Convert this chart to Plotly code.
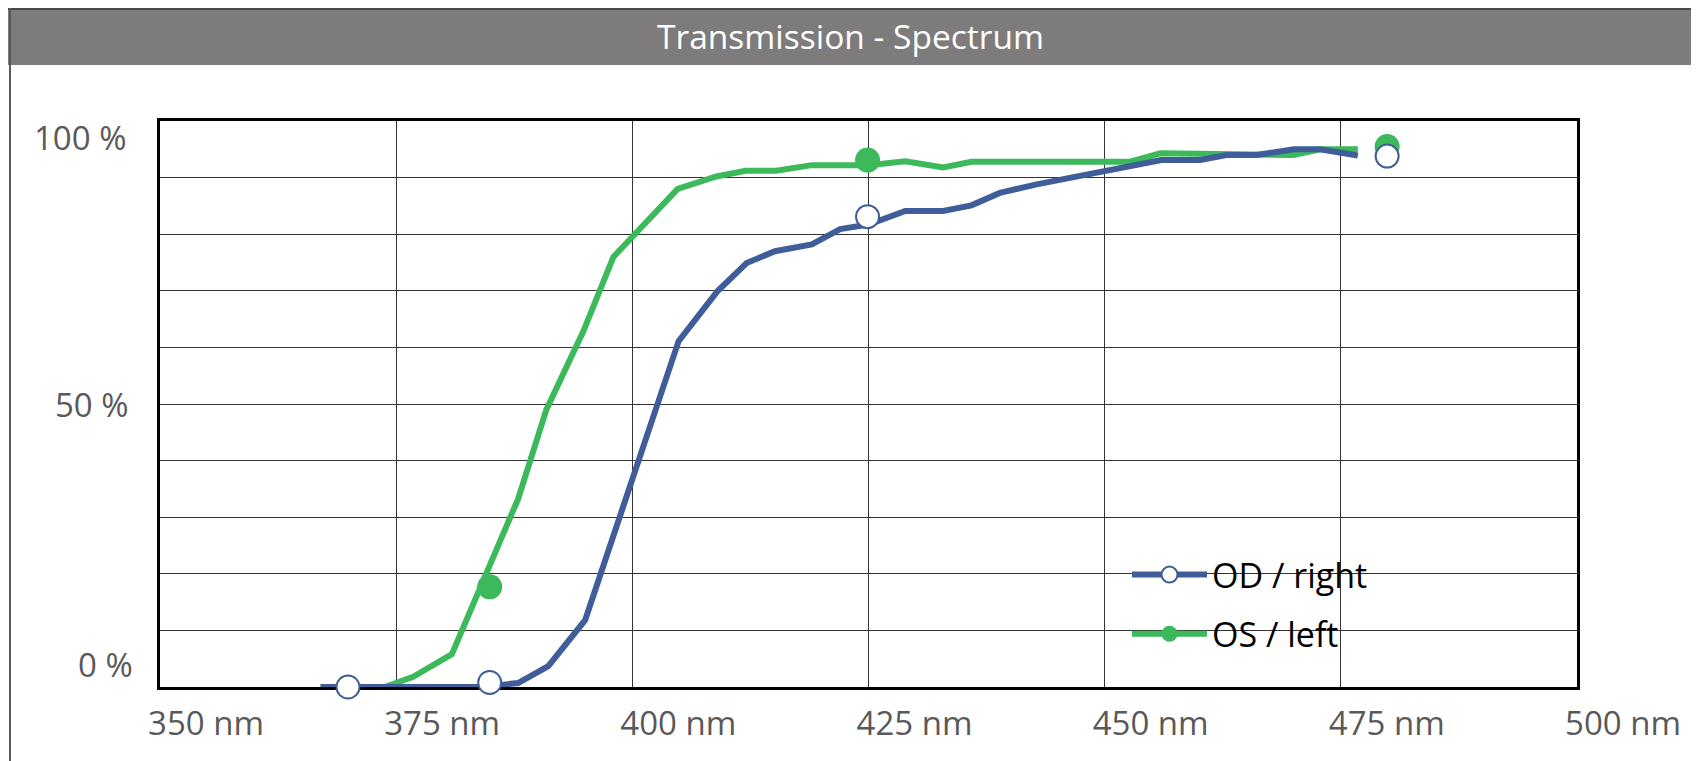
import plotly.graph_objects as go

# ---------------- data ----------------
od_nm = [367.0, 384.0, 387.9, 391.1, 395.0, 404.9, 409.0, 412.1, 415.1, 419.0, 422.0, 425.0,
         428.9, 432.9, 435.9, 438.9, 442.8, 447.0, 450.1, 456.0, 460.1, 462.9, 466.1, 470.0,
         472.8, 476.8]
od_pct = [0.0, 0.0, 0.7, 3.7, 11.8, 61.1, 69.9, 74.9, 77.0, 78.2, 80.9, 81.7,
          84.1, 84.1, 85.1, 87.3, 88.8, 90.2, 91.3, 93.1, 93.1, 94.0, 94.0, 95.0,
          95.0, 93.9]

os_nm = [367.0, 373.8, 376.8, 380.9, 387.9, 390.9, 394.8, 398.0, 404.8, 408.9, 412.0, 415.2,
         419.0, 425.0, 428.9, 432.9, 435.9, 452.7, 455.9, 466.1, 470.0, 472.8, 476.8]
os_pct = [0.0, 0.0, 1.8, 5.8, 33.2, 49.0, 62.8, 76.0, 88.0, 90.2, 91.2, 91.2,
          92.2, 92.2, 92.9, 91.8, 92.8, 92.8, 94.3, 94.0, 94.0, 95.0, 95.0]

od_marker_nm = [369.9, 384.9, 424.9, 479.9]
od_marker_pct = [0.0, 0.8, 83.1, 93.8]
os_marker_nm = [384.9, 424.9, 479.9]
os_marker_pct = [17.7, 93.1, 95.5]

x_tick_vals = [350, 375, 400, 425, 450, 475, 500]
x_tick_text = ["350 nm", "375 nm", "400 nm", "425 nm", "450 nm", "475 nm", "500 nm"]
y_label_text = ["100 %", "50 %", "0 %"]
y_label_vals = [97.1, 50.0, 3.9]

series_names = ["OD / right", "OS / left"]
title_text = "Transmission - Spectrum"

# ---------------- styling ----------------
W, H = 1699, 761
ML, MR, MT, MB = 152, 130, 113, 82
PW, PH = W - ML - MR, H - MT - MB
BLUE = "#3F5E99"
GREEN = "#3CB95B"
FONT = "Open Sans"
TICK_COLOR = "#595959"
Y_LABEL_RIGHT_PX = [120, 123, 127]


def px_x(p):
    return (p - ML) / PW


def px_y(p):
    return (H - MB - p) / PH


fig = go.Figure()

fig.add_trace(go.Scatter(x=os_nm, y=os_pct, mode="lines", line=dict(color=GREEN, width=6),
                         showlegend=False, cliponaxis=False, hoverinfo="skip"))
fig.add_trace(go.Scatter(x=od_nm, y=od_pct, mode="lines", line=dict(color=BLUE, width=6),
                         showlegend=False, cliponaxis=False, hoverinfo="skip"))
fig.add_trace(go.Scatter(x=os_marker_nm, y=os_marker_pct, mode="markers",
                         marker=dict(symbol="circle", size=25, color=GREEN, line=dict(width=0)),
                         showlegend=False, cliponaxis=False))
fig.add_trace(go.Scatter(x=od_marker_nm, y=od_marker_pct, mode="markers",
                         marker=dict(symbol="circle", size=23, color="white",
                                     line=dict(color=BLUE, width=2)),
                         showlegend=False, cliponaxis=False))

# legend entries
fig.add_trace(go.Scatter(x=[None], y=[None], mode="lines+markers", name=series_names[0],
                         legendgroup="od",
                         line=dict(color=BLUE, width=6),
                         marker=dict(symbol="circle", size=16, color="white",
                                     line=dict(color=BLUE, width=2))))
fig.add_trace(go.Scatter(x=[None], y=[None], mode="lines+markers", name=series_names[1],
                         legendgroup="os",
                         line=dict(color=GREEN, width=6),
                         marker=dict(symbol="circle", size=16, color=GREEN)))

shapes = [
    # title bar
    dict(type="rect", xref="paper", yref="paper",
         x0=px_x(0), x1=px_x(W + 5), y0=px_y(57), y1=px_y(1),
         fillcolor="#7D7B7B", line=dict(width=0), layer="below"),
    # top dark line
    dict(type="line", xref="paper", yref="paper",
         x0=px_x(0), x1=px_x(W + 5), y0=px_y(1), y1=px_y(1),
         line=dict(color="#4a4a4a", width=2), layer="below"),
    # left frame line
    dict(type="line", xref="paper", yref="paper",
         x0=px_x(2), x1=px_x(2), y0=px_y(0), y1=px_y(H + 5),
         line=dict(color="#5a5a5a", width=2), layer="below"),
]

annotations = []
for txt, v, rx in zip(y_label_text, y_label_vals, Y_LABEL_RIGHT_PX):
    annotations.append(dict(text=txt, xref="paper", yref="y", x=px_x(rx), y=v,
                            xanchor="right", yanchor="middle", showarrow=False,
                            font=dict(family=FONT, size=33, color=TICK_COLOR)))

fig.update_layout(
    width=W, height=H,
    margin=dict(l=ML, r=MR, t=MT, b=MB, pad=0),
    paper_bgcolor="white", plot_bgcolor="white",
    font=dict(family=FONT, size=33, color=TICK_COLOR),
    title=dict(text=title_text, x=842.5 / W, y=1 - 29.5 / H, xref="container", yref="container",
               xanchor="center", yanchor="middle",
               font=dict(family=FONT, size=33.5, color="white")),
    xaxis=dict(range=[350, 500], tickvals=x_tick_vals, ticktext=x_tick_text,
               ticklabelshift=46, ticklabelstandoff=5, ticks="",
               showgrid=True, gridcolor="#333333", gridwidth=1,
               showline=True, linecolor="black", linewidth=3, mirror=True,
               zeroline=False, layer="below traces",
               tickfont=dict(family=FONT, size=33, color=TICK_COLOR)),
    yaxis=dict(range=[0, 100], dtick=10, showticklabels=False, ticks="",
               showgrid=True, gridcolor="#333333", gridwidth=1,
               showline=True, linecolor="black", linewidth=3, mirror=True,
               zeroline=False, layer="below traces"),
    legend=dict(x=px_x(1119), y=px_y(538), xanchor="left", yanchor="top",
                bgcolor="rgba(0,0,0,0)", borderwidth=0, itemwidth=75,
                tracegroupgap=12,
                font=dict(family=FONT, size=34, color="black")),
    shapes=shapes,
    annotations=annotations,
    hovermode=False,
)

fig.write_html("out.html")
